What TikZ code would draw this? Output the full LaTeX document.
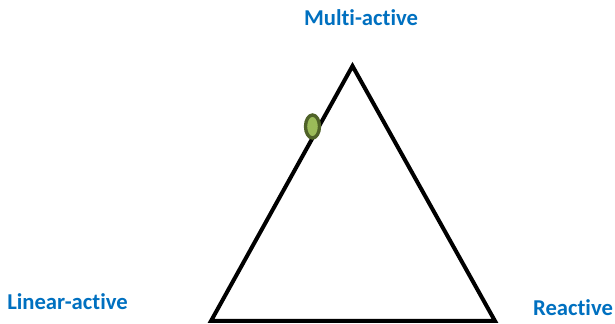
\documentclass[tikz,border=0pt]{standalone}
\usepackage{fontspec}
\setmainfont{Carlito}[Ligatures=NoCommon]
\usepackage{xcolor}
\usepackage{tikz}
\usetikzlibrary{shapes, positioning, calc}
\definecolor{labelblue}{HTML}{0070C0}
\definecolor{dotfill}{HTML}{9BBB59}
\definecolor{dotline}{HTML}{4F6228}

\begin{document}
\begin{tikzpicture}[x=0.75pt, y=-0.75pt,
    lbl/.style={text=labelblue, font=\bfseries\fontsize{17pt}{20pt}\selectfont, anchor=base, inner sep=0pt}]
    \useasboundingbox (0,0) rectangle (615,324);

    % Corners of the triangle
    \coordinate (top) at (352.5,66);
    \coordinate (left) at (211,321);
    \coordinate (right) at (495,321);

    % Triangle
    \draw[line width=3pt, line join=miter] (top) -- (right) -- (left) -- cycle;

    % Labels
    \node[lbl] (multi) at (361,26) {Multi-active};
    \node[lbl] (linear) at (67.5,310) {Linear-active};
    \node[lbl] (reactive) at (573,316) {Reactive};

    % Position marker
    \node[ellipse, draw=dotline, fill=dotfill, line width=2.5pt, inner sep=0pt,
          minimum width=10.5pt, minimum height=17.25pt] (dot) at (312.5,126.5) {};
\end{tikzpicture}
\end{document}
